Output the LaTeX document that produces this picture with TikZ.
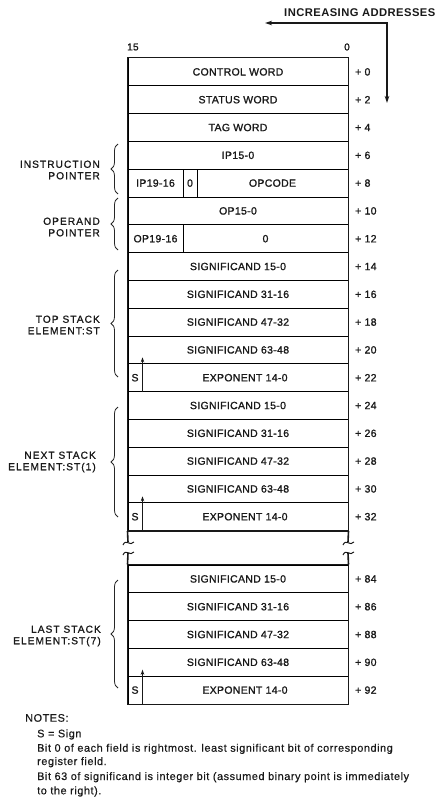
\documentclass[tikz,border=0pt]{standalone}
\usepackage{fontspec}
\setmainfont{Liberation Sans}
\newfontfamily\cellfam[LetterSpace=3,FakeBold=1.3]{Liberation Sans}
\newfontfamily\sidefam[LetterSpace=10,FakeBold=1.0]{Liberation Sans}
\newfontfamily\headfam[LetterSpace=4]{Liberation Sans Bold}
\newfontfamily\notefam[LetterSpace=5,FakeBold=0.4]{Liberation Sans}
\usetikzlibrary{arrows.meta,decorations.pathreplacing}
\begin{document}
\begin{tikzpicture}[x=1pt,y=-1pt,
  cell/.style={draw, line width=1pt, inner sep=0pt, minimum height=27.8pt,
    font=\cellfam\fontsize{10.5}{12}\selectfont, text=black!90},
  full/.style={cell, minimum width=220pt},
  addr/.style={anchor=west, inner sep=0pt, font=\cellfam\fontsize{10.5}{12}\selectfont, text=black!90},
  side/.style={anchor=east, align=right, inner sep=0pt,
    font=\sidefam\fontsize{10.2}{11.5}\selectfont, text=black!90},
  frame/.style={line width=1.6pt, black!90},
  br/.style={decorate, decoration={brace, amplitude=7pt}, line width=0.8pt, black!85},
  note/.style={anchor=base west, inner sep=0pt, font=\notefam\fontsize{10.9}{12}\selectfont, text=black!90},
  sarrow/.style={line width=0.9pt, -{Stealth[length=5pt,width=3.5pt]}, black!90},
  brk/.style={line width=1.6pt, black!90}]
\useasboundingbox (0,0) rectangle (435,797);

% heading
\node[anchor=west, inner sep=0pt, font=\headfam\fontsize{11.2}{13}\selectfont, text=black!90] (inc) at (284,13) {INCREASING ADDRESSES};
\coordinate (acorner) at (387,23);
\coordinate (aleft) at (265,23);
\coordinate (adown) at (387,103);
\draw[line width=1.1pt, black!90, {Stealth[length=7pt,width=4.5pt]}-{Stealth[length=7pt,width=4.5pt]}] (aleft) -- (acorner) -- (adown);
\node[anchor=west, inner sep=0pt, font=\cellfam\fontsize{10}{12}\selectfont, text=black!90] (b15) at (127,47) {15};
\node[inner sep=0pt, font=\cellfam\fontsize{10}{12}\selectfont, text=black!90] (b0) at (347,47) {0};

% rows
\node[full] (r0) at (238,71.9) {CONTROL WORD};
\node[full] (r1) at (238,99.7) {STATUS WORD};
\node[full] (r2) at (238,127.5) {TAG WORD};
\node[full] (r3) at (238,155.3) {IP15-0};
\node[cell, minimum width=55pt] (r4a) at (155.5,183.1) {IP19-16};
\node[cell, minimum width=14pt] (r4b) at (190,183.1) {0};
\node[cell, minimum width=151pt] (r4c) at (272.5,183.1) {OPCODE};
\node[full] (r5) at (238,210.9) {OP15-0};
\node[cell, minimum width=55pt] (r6a) at (155.5,238.7) {OP19-16};
\node[cell, minimum width=165pt] (r6b) at (265.5,238.7) {0};
% top stack
\node[full] (t0) at (238,266.5) {SIGNIFICAND 15-0};
\node[full] (t1) at (238,294.3) {SIGNIFICAND 31-16};
\node[full] (t2) at (238,322.1) {SIGNIFICAND 47-32};
\node[full] (t3) at (238,349.9) {SIGNIFICAND 63-48};
\node[cell, minimum width=14pt] (ts) at (135,377.7) {S};
\node[cell, minimum width=206pt] (te) at (245,377.7) {EXPONENT 14-0};
% next stack
\node[full] (n0) at (238,405.5) {SIGNIFICAND 15-0};
\node[full] (n1) at (238,433.3) {SIGNIFICAND 31-16};
\node[full] (n2) at (238,461.1) {SIGNIFICAND 47-32};
\node[full] (n3) at (238,488.9) {SIGNIFICAND 63-48};
\node[cell, minimum width=14pt] (ns) at (135,516.7) {S};
\node[cell, minimum width=206pt] (ne) at (245,516.7) {EXPONENT 14-0};
% last stack
\node[full] (l0) at (238,578.9) {SIGNIFICAND 15-0};
\node[full] (l1) at (238,606.7) {SIGNIFICAND 31-16};
\node[full] (l2) at (238,634.5) {SIGNIFICAND 47-32};
\node[full] (l3) at (238,662.3) {SIGNIFICAND 63-48};
\node[cell, minimum width=14pt] (ls) at (135,690.1) {S};
\node[cell, minimum width=206pt] (le) at (245,690.1) {EXPONENT 14-0};

% outer frames
\draw[frame] (r0.north west) rectangle (ne.south east);
\draw[frame] (l0.north west) rectangle (le.south east);

% sign arrows
\draw[sarrow] (ts.south east) -- ([yshift=6pt]ts.north east);
\draw[sarrow] (ns.south east) -- ([yshift=6pt]ns.north east);
\draw[sarrow] (ls.south east) -- ([yshift=6pt]ls.north east);

% break
\coordinate (bL1) at (128,542);
\coordinate (bL2) at (128,553);
\coordinate (bR1) at (348,542);
\coordinate (bR2) at (348,553);
\draw[brk] (ns.south west) -- (bL1);
\draw[brk] (ne.south east) -- (bR1);
\draw[brk] (bL2) -- (l0.north west);
\draw[brk] (bR2) -- (l0.north east);
\draw[line width=1pt, black!90] ([xshift=-5pt,yshift=-3pt]bL1) .. controls ([xshift=-2pt,yshift=4pt]bL1) and ([xshift=2pt,yshift=-5pt]bL1) .. ([xshift=6pt,yshift=0pt]bL1);
\draw[line width=1pt, black!90] ([xshift=-5pt,yshift=-2pt]bL2) .. controls ([xshift=-2pt,yshift=5pt]bL2) and ([xshift=2pt,yshift=-4pt]bL2) .. ([xshift=6pt,yshift=1pt]bL2);
\draw[line width=1pt, black!90] ([xshift=-5pt,yshift=-3pt]bR1) .. controls ([xshift=-2pt,yshift=4pt]bR1) and ([xshift=2pt,yshift=-5pt]bR1) .. ([xshift=6pt,yshift=0pt]bR1);
\draw[line width=1pt, black!90] ([xshift=-5pt,yshift=-2pt]bR2) .. controls ([xshift=-2pt,yshift=5pt]bR2) and ([xshift=2pt,yshift=-4pt]bR2) .. ([xshift=6pt,yshift=1pt]bR2);

% addresses
\node[addr] (a0) at (355,71.9) {+ 0};
\node[addr] (a2) at (355,99.7) {+ 2};
\node[addr] (a4) at (355,127.5) {+ 4};
\node[addr] (a6) at (355,155.3) {+ 6};
\node[addr] (a8) at (355,183.1) {+ 8};
\node[addr] (a10) at (355,210.9) {+ 10};
\node[addr] (a12) at (355,238.7) {+ 12};
\node[addr] (a14) at (355,266.5) {+ 14};
\node[addr] (a16) at (355,294.3) {+ 16};
\node[addr] (a18) at (355,322.1) {+ 18};
\node[addr] (a20) at (355,349.9) {+ 20};
\node[addr] (a22) at (355,377.7) {+ 22};
\node[addr] (a24) at (355,405.5) {+ 24};
\node[addr] (a26) at (355,433.3) {+ 26};
\node[addr] (a28) at (355,461.1) {+ 28};
\node[addr] (a30) at (355,488.9) {+ 30};
\node[addr] (a32) at (355,516.7) {+ 32};
\node[addr] (a84) at (355,578.9) {+ 84};
\node[addr] (a86) at (355,606.7) {+ 86};
\node[addr] (a88) at (355,634.5) {+ 88};
\node[addr] (a90) at (355,662.3) {+ 90};
\node[addr] (a92) at (355,690.1) {+ 92};

% braces and side labels
\coordinate (ipb) at (118,194); \coordinate (ipt) at (118,144);
\draw[br] (ipb) -- (ipt);
\node[side] (ip) at (100,170) {INSTRUCTION\\POINTER};
\coordinate (opb) at (118,250); \coordinate (opt) at (118,198);
\draw[br] (opb) -- (opt);
\node[side] (op) at (100,227) {OPERAND\\POINTER};
\coordinate (tsb) at (118,377); \coordinate (tst) at (118,270);
\draw[br] (tsb) -- (tst);
\node[side] (tsl) at (100,325) {TOP STACK\\ELEMENT:ST};
\coordinate (nsb) at (118,517); \coordinate (nst) at (118,407);
\draw[br] (nsb) -- (nst);
\node[side] (nsl) at (96,462) {NEXT STACK\\ELEMENT:ST(1)};
\coordinate (lsb) at (118,688); \coordinate (lst) at (118,580);
\draw[br] (lsb) -- (lst);
\node[side] (lsl) at (101,636) {LAST STACK\\ELEMENT:ST(7)};

% notes
\node[note] (nt) at (25,721.7) {NOTES:};
\node[note] (n1t) at (37,737.3) {S = Sign};
\node[note] (n2t) at (37,751.7) {Bit 0 of each field is rightmost. least significant bit of corresponding};
\node[note] (n3t) at (37,765) {register field.};
\node[note] (n4t) at (37,780) {Bit 63 of significand is integer bit (assumed binary point is immediately};
\node[note] (n5t) at (37,794.3) {to the right).};
\end{tikzpicture}
\end{document}
